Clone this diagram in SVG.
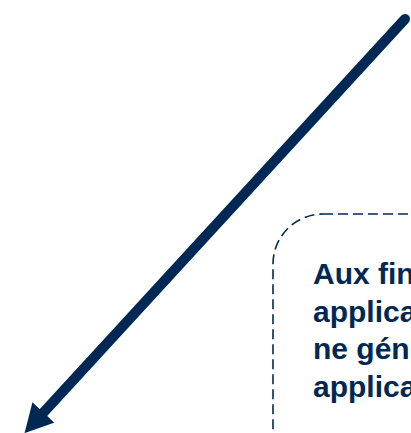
<svg xmlns="http://www.w3.org/2000/svg" width="411" height="433" viewBox="0 0 411 433">
<style>
.conn{fill:none;stroke:#002855;stroke-width:10;stroke-linecap:round}
.box{fill:none;stroke:#002855;stroke-width:1.6;stroke-dasharray:10 5}
.t{font-family:"Liberation Sans",Arial,sans-serif;font-weight:bold;font-size:30px;fill:#002855}
</style>
<defs>
<marker id="head" viewBox="0 0 28 30" refX="0" refY="15" markerWidth="28" markerHeight="30" markerUnits="userSpaceOnUse" orient="auto">
<path d="M0,0 L28,15 L0,30 z" fill="#002855"/>
</marker>
</defs>
<rect width="411" height="433" fill="#ffffff"/>
<g id="connectors">
<path class="conn" d="M405,19 L43.5,412.5" marker-end="url(#head)" style="stroke-linecap:round"/>
</g>
<g id="note">
<rect class="box" x="273" y="214" width="300" height="300" rx="50" ry="50"/>
<text class="t" x="313" y="284">Aux fin</text>
<text class="t" x="313" y="321.5">applica</text>
<text class="t" x="313" y="359">ne gén</text>
<text class="t" x="313" y="396.5">applica</text>
<text class="t" x="313" y="452.5">D</text>
</g>
</svg>
